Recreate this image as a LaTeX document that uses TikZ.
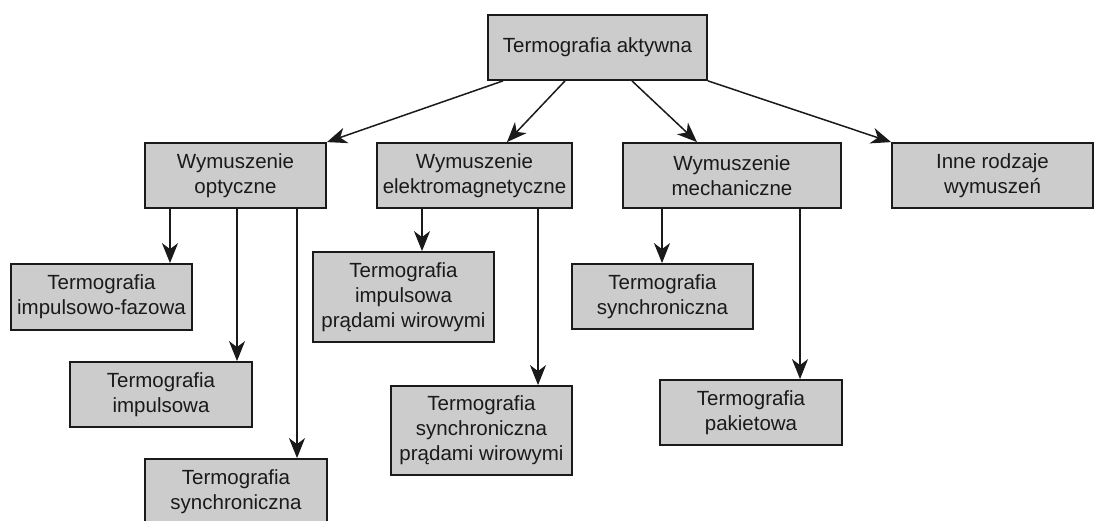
\documentclass[tikz,border=0pt]{standalone}
\usepackage{fontspec}
\setmainfont{Liberation Sans}
\usetikzlibrary{arrows.meta}
\definecolor{boxfill}{HTML}{CCCCCC}
\definecolor{ink}{HTML}{1A1A1A}
\tikzset{
  box/.style={draw=ink, line width=1.8pt, fill=boxfill, text=ink, inner sep=0pt,
    align=center, font=\fontsize{20.5}{25}\selectfont},
  arr/.style={draw=ink, line width=1.5pt, -{Stealth[length=20pt,width=16pt,inset=6pt]}}
}
\begin{document}
\begin{tikzpicture}[x=1pt, y=-1pt]
\useasboundingbox (0,0) rectangle (1100,520);

% root
\node[box, minimum width=219pt, minimum height=65pt] (root) at (597.5,47.5) {Termografia aktywna};

% excitation types
\node[box, minimum width=181pt, minimum height=65pt] (opt)  at (235.5,175.5) {Wymuszenie\\optyczne};
\node[box, minimum width=195pt, minimum height=65pt] (em)   at (474.5,175.5) {Wymuszenie\\elektromagnetyczne};
\node[box, minimum width=218pt, minimum height=65pt] (mech) at (732,175.5)   {Wymuszenie\\mechaniczne};
\node[box, minimum width=201pt, minimum height=65pt] (inne) at (992.5,175.5) {Inne rodzaje\\wymuszeń};

% optical methods
\node[box, minimum width=181pt, minimum height=66pt] (ipf)  at (101.5,297)   {Termografia\\impulsowo-fazowa};
\node[box, minimum width=182pt, minimum height=65pt] (imp)  at (161,394.5)   {Termografia\\impulsowa};
\node[box, minimum width=182pt, minimum height=65pt] (syo)  at (236,491.5)   {Termografia\\synchroniczna};

% electromagnetic methods
\node[box, minimum width=181pt, minimum height=90pt] (ipw)  at (403.5,297)   {Termografia\\impulsowa\\prądami wirowymi};
\node[box, minimum width=181pt, minimum height=89pt] (spw)  at (481.5,430.5) {Termografia\\synchroniczna\\prądami wirowymi};

% mechanical methods
\node[box, minimum width=181pt, minimum height=65pt] (sme)  at (662.5,296.5) {Termografia\\synchroniczna};
\node[box, minimum width=182pt, minimum height=65pt] (pak)  at (751,412.5)   {Termografia\\pakietowa};

% attachment points
\coordinate (r1) at (503,0);
\coordinate (r2) at (565,0);
\coordinate (r3) at (632,0);
\coordinate (e2) at (507,0);
\coordinate (e3) at (697,0);
\coordinate (v1) at (170,0);
\coordinate (v2) at (237,0);
\coordinate (v3) at (297,0);
\coordinate (v4) at (422,0);
\coordinate (v5) at (538,0);
\coordinate (v6) at (662,0);
\coordinate (v7) at (800,0);

% root to excitation types
\draw[arr] (root.south -| r1) -- (opt.north east);
\draw[arr] (root.south -| r2) -- (em.north -| e2);
\draw[arr] (root.south -| r3) -- (mech.north -| e3);
\draw[arr] (root.south east) -- (inne.north west);

% excitation types to methods
\draw[arr] (opt.south -| v1) -- (ipf.north -| v1);
\draw[arr] (opt.south -| v2) -- (imp.north -| v2);
\draw[arr] (opt.south -| v3) -- (syo.north -| v3);
\draw[arr] (em.south -| v4) -- (ipw.north -| v4);
\draw[arr] (em.south -| v5) -- (spw.north -| v5);
\draw[arr] (mech.south -| v6) -- (sme.north -| v6);
\draw[arr] (mech.south -| v7) -- (pak.north -| v7);
\end{tikzpicture}
\end{document}
